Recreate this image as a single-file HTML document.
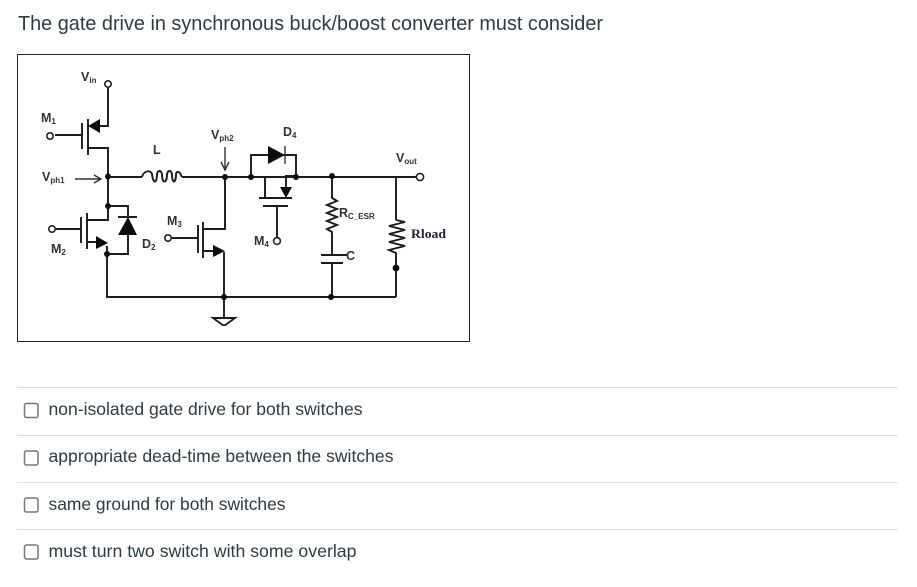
<!DOCTYPE html>
<html><head><meta charset="utf-8"><style>
html,body{margin:0;padding:0;background:#fff;width:917px;height:587px;overflow:hidden}
svg{display:block}
.t{font-family:"Liberation Sans",sans-serif;fill:#2d3b45}
.w{fill:none;stroke:#1a1a1a;stroke-width:1.9}
.th{fill:none;stroke:#333;stroke-width:1.4}
.b{fill:#111;stroke:none}
.c{fill:#fff;stroke:#222;stroke-width:1.6}
.l{font-family:"Liberation Sans",sans-serif;font-weight:bold;fill:#333;font-size:12.5px}
.s{font-size:8px}
.cb{fill:#fff;stroke:#777;stroke-width:1.5}
</style></head><body>
<svg width="917" height="587" viewBox="0 0 917 587" xmlns="http://www.w3.org/2000/svg">
<defs><filter id="bl" x="0" y="0" width="100%" height="100%"><feGaussianBlur stdDeviation="0.35"/></filter></defs>
<text class="t" x="18" y="30" font-size="20" textLength="585" lengthAdjust="spacingAndGlyphs">The gate drive in synchronous buck/boost converter must consider</text>
<rect x="17.5" y="54.5" width="452" height="287" fill="#fff" stroke="#222" stroke-width="1"/>

<g filter="url(#bl)">
<!-- wires -->
<path class="w" d="M108 88V126H98M88 148H108V220H87M107 246V297H396M396 177V220M108 177H142M182 177H416M225 177V229H203M224 252V318M203 251H214"/>
<!-- M1 -->
<path class="w" d="M88 119V155M82 123V149M55 135H82"/>
<path class="b" d="M88 126L100 119V133Z"/>
<circle class="c" cx="108" cy="84" r="3.2"/><circle class="c" cx="50" cy="136" r="3.2"/>
<!-- inductor -->
<path class="w" d="M142 177C144 170 151 170 152 174C153 184 157 184 157 174C158 170 161 170 162 174C162 184 167 184 167 174C168 170 171 170 172 174C172 184 176 184 176 174C177 170 180 172 182 177"/>
<!-- Vph arrows -->
<path class="th" d="M75 179H101M94 175L101 179L94 183M225 147V170M221 162L225 170L229 162"/>
<!-- M2 + D2 -->
<path class="w" d="M108 206H128V254H107M87 213V249M81 217V243M56 229H81M87 242H97"/>
<path class="b" d="M96 236L108 243L96 249Z"/>
<path class="b" d="M128 217L118 235H137Z"/>
<path class="w" d="M118 217H137"/>
<circle class="c" cx="52" cy="229" r="3.2"/>
<!-- M3 -->
<path class="w" d="M203 222V258M198 225V253M172 238H198"/>
<path class="b" d="M213 245L225 251L213 257Z"/>
<circle class="c" cx="168" cy="238" r="3.2"/>
<!-- ground -->
<path class="w" d="M213 318H235L224 326Z"/>
<!-- D4 / M4 -->
<path class="w" d="M251 177V155H296V177M251 177H265V198M296 176H286V188M259 198H292M263 206H288M277 206V237"/>
<path class="b" d="M268 146L285 155L268 164Z"/>
<path class="th" d="M285 146V164"/>
<path class="b" d="M280 187H292L286 198Z"/>
<circle class="c" cx="277" cy="241" r="3.4"/>
<!-- R ESR / C -->
<path class="w" d="M332 177V198L337 201L327 205L337 209L327 213L337 217L327 221L337 225L327 229L332 232V255M321 255H343M321 263H343M332 263V297M343 255H348"/>
<!-- Rload -->
<path class="w" d="M396 220L405 222L389 226L405 230L389 234L405 238L389 242L405 246L389 250L396 253V297"/>
<circle class="c" cx="420" cy="177" r="3.6"/>
<!-- dots -->
<g class="b">
<circle cx="108" cy="176.5" r="3"/><circle cx="108" cy="206" r="3"/><circle cx="107" cy="254" r="3"/>
<circle cx="225" cy="177" r="3"/><circle cx="251" cy="177" r="3"/><circle cx="296" cy="177" r="3"/>
<circle cx="332" cy="176" r="3"/><circle cx="224" cy="297" r="3"/><circle cx="331" cy="297" r="3"/>
<circle cx="396" cy="268" r="3.4"/>
</g>
<!-- labels -->
<text class="l" x="81" y="81">V<tspan class="s" dy="2">in</tspan></text>
<text class="l" x="41" y="122">M<tspan class="s" dy="2">1</tspan></text>
<text class="l" x="42" y="181">V<tspan class="s" dy="2">ph1</tspan></text>
<text class="l" x="153" y="154">L</text>
<text class="l" x="211" y="139">V<tspan class="s" dy="2">ph2</tspan></text>
<text class="l" x="283" y="136">D<tspan class="s" dy="2">4</tspan></text>
<text class="l" x="396" y="162">V<tspan class="s" dy="2">out</tspan></text>
<text class="l" x="339" y="217">R<tspan class="s" dy="2">C_ESR</tspan></text>
<text class="l" x="51" y="253">M<tspan class="s" dy="2">2</tspan></text>
<text class="l" x="142" y="248">D<tspan class="s" dy="2">2</tspan></text>
<text class="l" x="167" y="225">M<tspan class="s" dy="2">3</tspan></text>
<text class="l" x="254" y="245">M<tspan class="s" dy="2">4</tspan></text>
<text class="l" x="346" y="260">C</text>
<text x="411" y="238" font-family="Liberation Serif,serif" font-weight="bold" font-size="13" fill="#223" textLength="35" lengthAdjust="spacingAndGlyphs">Rload</text>
</g>

<!-- options -->
<g fill="#ddd">
<rect x="17" y="387" width="881" height="1"/><rect x="17" y="435" width="881" height="1"/>
<rect x="17" y="482" width="881" height="1"/><rect x="17" y="529" width="881" height="1"/>
</g>
<rect class="cb" x="24.5" y="403.5" width="13.5" height="14" rx="2"/>
<rect class="cb" x="24.5" y="451" width="13.5" height="14" rx="2"/>
<rect class="cb" x="24.5" y="498" width="13.5" height="14" rx="2"/>
<rect class="cb" x="24.5" y="545" width="13.5" height="14" rx="2"/>
<g class="t" font-size="17.5">
<text x="48.5" y="415" textLength="314" lengthAdjust="spacingAndGlyphs">non-isolated gate drive for both switches</text>
<text x="48.5" y="462" textLength="345" lengthAdjust="spacingAndGlyphs">appropriate dead-time between the switches</text>
<text x="48.5" y="510" textLength="237" lengthAdjust="spacingAndGlyphs">same ground for both switches</text>
<text x="48.5" y="557" textLength="308" lengthAdjust="spacingAndGlyphs">must turn two switch with some overlap</text>
</g>
</svg>
</body></html>
